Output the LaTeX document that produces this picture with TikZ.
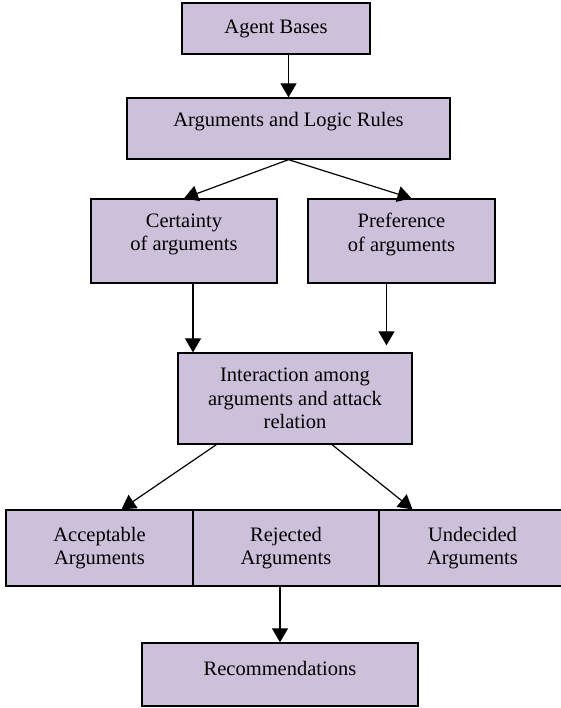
\documentclass[tikz,border=0pt]{standalone}
\usepackage{fontspec}
\setmainfont{Liberation Serif}
\usetikzlibrary{arrows.meta}
\definecolor{boxfill}{RGB}{204,192,218}
\tikzset{
	box/.style={draw,line width=1.3pt,fill=boxfill,inner sep=0pt,align=center,font=\fontsize{20.5}{23.5}\selectfont},
	txt/.style={inner sep=0pt,align=center,font=\fontsize{20.5}{23.5}\selectfont},
	arr/.style={line width=1.2pt,-{Triangle[length=14pt,width=16pt]}}
}
\begin{document}
\begin{tikzpicture}[x=1pt,y=-1pt]
	\useasboundingbox (0,0) rectangle (560,708);
	% top
	\node[box,minimum width=188pt,minimum height=51pt] (base) at (276,28.5) {Agent Bases};
	\node[box,minimum width=323pt,minimum height=61pt] (rules) at (288.5,128.5) {};
	\node[txt] (rulestxt) at ([yshift=7pt]rules.center) {Arguments and Logic Rules};
	% middle
	\node[box,minimum width=186pt,minimum height=84pt] (cert) at (184,241) {};
	\node[txt] (certtxt) at ([yshift=6.5pt]cert.center) {Certainty\\of arguments};
	\node[box,minimum width=187pt,minimum height=84pt] (pref) at (401.5,241) {};
	\node[txt] (preftxt) at ([yshift=6.5pt]pref.center) {Preference\\of arguments};
	\node[box,minimum width=234pt,minimum height=91pt] (inter) at (295,398.5) {Interaction among\\arguments and attack\\relation};
	% bottom row
	\node[box,minimum width=187pt,minimum height=76pt] (acc) at (99.5,548) {Acceptable\\Arguments};
	\node[box,minimum width=186pt,minimum height=76pt] (rej) at (286,548) {Rejected\\Arguments};
	\node[box,minimum width=187pt,minimum height=76pt] (und) at (472.5,548) {Undecided\\Arguments};
	\node[box,minimum width=276pt,minimum height=63pt] (rec) at (280,674.5) {};
	\node[txt] (rectxt) at ([yshift=6.5pt]rec.center) {Recommendations};
	% arrows
	\draw[arr] (base.south -| rules.north) -- (rules.north);
	\draw[arr] (rules.south) -- (cert.north);
	\draw[arr] (rules.south) -- ([xshift=10pt]pref.north);
	\draw[arr] ([xshift=9pt]cert.south) -- ([xshift=9pt]cert.south |- inter.north);
	\draw[arr,shorten >=7pt] ([xshift=-15pt]pref.south) -- ([xshift=-15pt]pref.south |- inter.north);
	\draw[arr] ([xshift=39pt]inter.south west) -- ([xshift=22pt]acc.north);
	\draw[arr] ([xshift=37pt]inter.south) -- ([xshift=-60pt]und.north);
	\draw[arr] (rej.south -| rec.north) -- (rec.north);
\end{tikzpicture}
\end{document}
